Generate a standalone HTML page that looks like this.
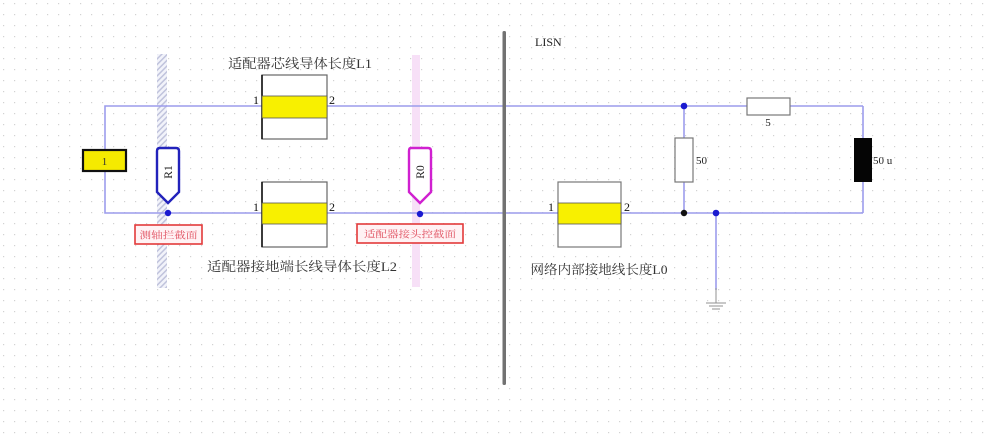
<!DOCTYPE html>
<html><head><meta charset="utf-8">
<style>
html,body{margin:0;padding:0;background:#fff;}
svg{display:block;}
.cj{font-family:"Liberation Serif","Noto Serif CJK SC",serif;}
</style></head>
<body>
<svg width="990" height="434" viewBox="0 0 990 434" xmlns="http://www.w3.org/2000/svg">
<defs>
<pattern id="grid" x="3" y="3" width="11" height="11" patternUnits="userSpaceOnUse">
<rect x="0" y="0" width="1.2" height="1.2" fill="#d2d2d2"/>
</pattern>
<pattern id="hatch" width="4" height="4" patternUnits="userSpaceOnUse" patternTransform="rotate(45)">
<rect width="4" height="4" fill="#f2f3fa"/>
<rect width="1.5" height="4" fill="#c0c3dc"/>
</pattern>
</defs>
<rect width="990" height="434" fill="#fff"/>
<rect width="990" height="434" fill="url(#grid)"/>

<!-- hatched reference band R1 -->
<rect x="157" y="54" width="10" height="234" fill="url(#hatch)"/>
<!-- pink band R0 -->
<rect x="412" y="55" width="8" height="232" fill="#f7e0f7"/>

<!-- wires -->
<g stroke="#9c9cec" stroke-width="1.6" fill="none">
<polyline points="105,150 105,106 262,106"/>
<polyline points="105,171 105,213 262,213"/>
<line x1="327" y1="106" x2="747" y2="106"/>
<line x1="790" y1="106" x2="863" y2="106"/>
<line x1="863" y1="106" x2="863" y2="138"/>
<line x1="863" y1="182" x2="863" y2="213"/>
<line x1="327" y1="213" x2="558" y2="213"/>
<line x1="621" y1="213" x2="863" y2="213"/>
<line x1="684" y1="106" x2="684" y2="138"/>
<line x1="684" y1="182" x2="684" y2="213"/>
<line x1="716" y1="213" x2="716" y2="290"/>
</g>
<!-- ground -->
<g stroke="#909090" stroke-width="1" fill="none">
<line x1="716" y1="288" x2="716" y2="303"/>
<line x1="706" y1="303" x2="726" y2="303"/>
<line x1="709" y1="306" x2="723" y2="306"/>
<line x1="712" y1="309" x2="720" y2="309"/>
</g>

<!-- divider -->
<rect x="502.5" y="31" width="3.5" height="354" fill="#727272" rx="1.5"/>

<!-- box 1 -->
<rect x="83" y="150" width="43" height="21" fill="#f5ea00" stroke="#111" stroke-width="2.2"/>
<text x="104.5" y="165" font-size="11" text-anchor="middle" class="cj" fill="#333">1</text>

<!-- R1 probe -->
<path d="M160,148 L176,148 Q179,148 179,151 L179,192 L168,203 L157,192 L157,151 Q157,148 160,148 Z" fill="#fff" stroke="#2222bb" stroke-width="2.4"/>
<text transform="translate(172,172) rotate(-90)" font-size="11.5" text-anchor="middle" class="cj" fill="#222">R1</text>
<circle cx="168" cy="213" r="3.2" fill="#1a1ad0"/>

<!-- R0 probe -->
<path d="M411,148 L428,148 Q431,148 431,151 L431,192 L420,203 L409,192 L409,151 Q409,148 411,148 Z" fill="#fff" stroke="#d020d0" stroke-width="2.4"/>
<text transform="translate(424,172) rotate(-90)" font-size="11.5" text-anchor="middle" class="cj" fill="#222">R0</text>
<circle cx="420" cy="214" r="3.2" fill="#1a1ad0"/>

<!-- red labels -->
<rect x="135" y="225" width="67" height="19" fill="#fff2f4" stroke="#e23a3a" stroke-width="1.6"/>
<text x="168.5" y="238.5" font-size="9.5" text-anchor="middle" class="cj" fill="#e05060" textLength="58" lengthAdjust="spacingAndGlyphs">测轴拦截面</text>
<rect x="357" y="224" width="106" height="19" fill="#fff2f4" stroke="#e23a3a" stroke-width="1.6"/>
<text x="410" y="237.5" font-size="9.5" text-anchor="middle" class="cj" fill="#e05060" textLength="92" lengthAdjust="spacingAndGlyphs">适配器接头控截面</text>

<!-- L1 -->
<rect x="262" y="75" width="65" height="64" fill="#fff" stroke="#666" stroke-width="1.2"/>
<line x1="262" y1="75" x2="262" y2="139" stroke="#111" stroke-width="1.6"/>
<rect x="262" y="96" width="65" height="22" fill="#f8f000" stroke="#555" stroke-width="0.8"/>
<text x="256" y="104" font-size="12" text-anchor="middle" class="cj" fill="#111">1</text>
<text x="332" y="104" font-size="12" text-anchor="middle" class="cj" fill="#111">2</text>
<text x="300" y="68" font-size="13" text-anchor="middle" class="cj" fill="#333" textLength="144" lengthAdjust="spacingAndGlyphs">适配器芯线导体长度L1</text>

<!-- L2 -->
<rect x="262" y="182" width="65" height="65" fill="#fff" stroke="#666" stroke-width="1.2"/>
<line x1="262" y1="182" x2="262" y2="247" stroke="#111" stroke-width="1.6"/>
<rect x="262" y="203" width="65" height="21" fill="#f8f000" stroke="#555" stroke-width="0.8"/>
<text x="256" y="211" font-size="12" text-anchor="middle" class="cj" fill="#111">1</text>
<text x="332" y="211" font-size="12" text-anchor="middle" class="cj" fill="#111">2</text>
<text x="302" y="271" font-size="13" text-anchor="middle" class="cj" fill="#333" textLength="190" lengthAdjust="spacingAndGlyphs">适配器接地端长线导体长度L2</text>

<!-- L0 -->
<rect x="558" y="182" width="63" height="65" fill="#fff" stroke="#777" stroke-width="1.2"/>
<rect x="558" y="203" width="63" height="21" fill="#f8f000" stroke="#555" stroke-width="0.8"/>
<text x="551" y="211" font-size="12" text-anchor="middle" class="cj" fill="#111">1</text>
<text x="627" y="211" font-size="12" text-anchor="middle" class="cj" fill="#111">2</text>
<text x="599" y="274" font-size="13" text-anchor="middle" class="cj" fill="#333" textLength="137" lengthAdjust="spacingAndGlyphs">网络内部接地线长度L0</text>

<!-- LISN -->
<text x="535" y="46" font-size="12" class="cj" fill="#222">LISN</text>

<!-- resistor 5 -->
<rect x="747" y="98" width="43" height="17" fill="#fff" stroke="#777" stroke-width="1.2"/>
<text x="768" y="126" font-size="11" text-anchor="middle" class="cj" fill="#222">5</text>
<!-- resistor 50 -->
<rect x="675" y="138" width="18" height="44" fill="#fff" stroke="#777" stroke-width="1.2"/>
<text x="696" y="164" font-size="11" class="cj" fill="#222">50</text>
<!-- inductor -->
<rect x="854" y="138" width="18" height="44" fill="#050505"/>
<text x="873" y="164" font-size="11" class="cj" fill="#222">50 u</text>

<!-- nodes -->
<circle cx="684" cy="106" r="3.3" fill="#1a1ad0"/>
<circle cx="684" cy="213" r="3.2" fill="#111"/>
<circle cx="716" cy="213" r="3.3" fill="#1a1ad0"/>
</svg>
</body></html>
